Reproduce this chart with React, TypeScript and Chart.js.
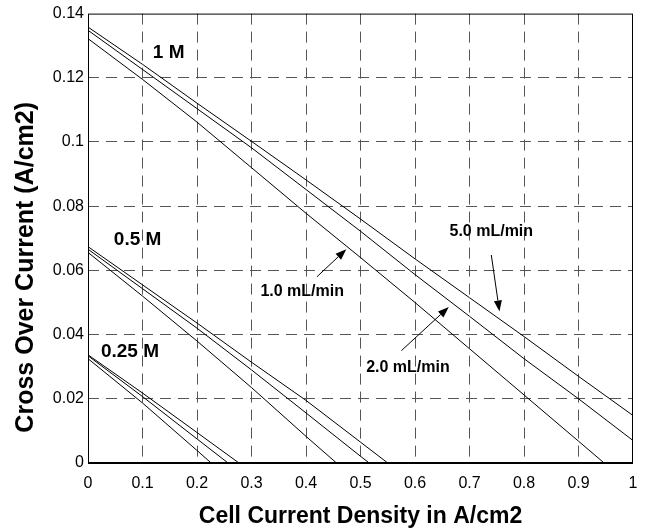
import React, { useEffect, useRef } from "react";
import { Chart, registerables } from "chart.js";

Chart.register(...registerables);

// ---- data ----
const X_MIN = 0;
const X_MAX = 1;
const X_STEP = 0.1;
const Y_MIN = 0;
const Y_MAX = 0.14;
const Y_STEP = 0.02;

// 1 M
const x1M_5 = [0, 0.1, 0.2, 0.3, 0.4, 0.5, 0.6, 0.7, 0.8, 0.9, 1.0];
const y1M_5 = [0.1358, 0.1242, 0.1121, 0.1002, 0.0882, 0.076, 0.0636, 0.0515, 0.0394, 0.027, 0.0148];
const x1M_2 = [0, 0.1, 0.2, 0.3, 0.4, 0.5, 0.6, 0.7, 0.8, 0.9, 1.0];
const y1M_2 = [0.1348, 0.1226, 0.1104, 0.0982, 0.0852, 0.0722, 0.0587, 0.0457, 0.0325, 0.02, 0.007];
const x1M_1 = [0, 0.1, 0.2, 0.3, 0.4, 0.5, 0.6, 0.7, 0.8, 0.9, 0.947];
const y1M_1 = [0.1322, 0.1195, 0.1062, 0.092, 0.0778, 0.064, 0.05, 0.0356, 0.0212, 0.0068, 0];

// 0.5 M
const x05_5 = [0, 0.1, 0.2, 0.3, 0.4, 0.5, 0.55];
const y05_5 = [0.0674, 0.0555, 0.0436, 0.0314, 0.0195, 0.0065, 0];
const x05_2 = [0, 0.1, 0.2, 0.3, 0.4, 0.5, 0.516];
const y05_2 = [0.0666, 0.0543, 0.042, 0.029, 0.0156, 0.0021, 0];
const x05_1 = [0, 0.1, 0.2, 0.3, 0.4, 0.456];
const y05_1 = [0.0656, 0.052, 0.038, 0.0235, 0.0083, 0];

// 0.25 M
const x025_5 = [0, 0.1, 0.2, 0.277];
const y025_5 = [0.0337, 0.0218, 0.0095, 0];
const x025_2 = [0, 0.1, 0.2, 0.257];
const y025_2 = [0.0334, 0.0207, 0.0075, 0];
const x025_1 = [0, 0.1, 0.2, 0.226];
const y025_1 = [0.0325, 0.0187, 0.0039, 0];

const SERIES: [string, number[], number[]][] = [
  ["1 M, 5.0 mL/min", x1M_5, y1M_5],
  ["1 M, 2.0 mL/min", x1M_2, y1M_2],
  ["1 M, 1.0 mL/min", x1M_1, y1M_1],
  ["0.5 M, 5.0 mL/min", x05_5, y05_5],
  ["0.5 M, 2.0 mL/min", x05_2, y05_2],
  ["0.5 M, 1.0 mL/min", x05_1, y05_1],
  ["0.25 M, 5.0 mL/min", x025_5, y025_5],
  ["0.25 M, 2.0 mL/min", x025_2, y025_2],
  ["0.25 M, 1.0 mL/min", x025_1, y025_1],
];

// text annotations in data coordinates
const LABEL_TEXT = ["1 M", "0.5 M", "0.25 M", "1.0 mL/min", "2.0 mL/min", "5.0 mL/min"];
const LABEL_X = [0.148, 0.091, 0.077, 0.393, 0.587, 0.74];
const LABEL_Y = [0.1277, 0.0695, 0.0348, 0.0534, 0.0298, 0.072];
const LABEL_SIZE = [19, 19, 19, 16, 16, 16];

// arrows: from (x0,y0) to (x1,y1) in data coordinates
const ARROW_X0 = [0.42, 0.575, 0.74];
const ARROW_Y0 = [0.058, 0.035, 0.0648];
const ARROW_X1 = [0.474, 0.662, 0.755];
const ARROW_Y1 = [0.0666, 0.0486, 0.0472];

const X_TITLE = "Cell Current Density in A/cm2";
const Y_TITLE = "Cross Over Current (A/cm2)";

const FONT = "'Liberation Sans', Arial, Helvetica, sans-serif";

const fmt = (v: number) => String(parseFloat(Number(v).toFixed(4)));

const decorPlugin = {
  id: "decor",
  afterDraw(chart: any) {
    const { ctx, chartArea, scales } = chart;
    const sx = scales.x;
    const sy = scales.y;
    ctx.save();
    // frame
    ctx.strokeStyle = "#000";
    ctx.lineWidth = 1;
    ctx.strokeRect(chartArea.left + 0.5, chartArea.top + 0.5, chartArea.right - chartArea.left - 1, chartArea.bottom - chartArea.top);
    ctx.lineWidth = 2;
    ctx.beginPath();
    ctx.moveTo(chartArea.left, chartArea.bottom);
    ctx.lineTo(chartArea.right, chartArea.bottom);
    ctx.stroke();

    // labels
    ctx.fillStyle = "#000";
    ctx.textAlign = "center";
    ctx.textBaseline = "middle";
    for (let i = 0; i < LABEL_TEXT.length; i++) {
      ctx.font = `bold ${LABEL_SIZE[i]}px ${FONT}`;
      ctx.fillText(LABEL_TEXT[i], sx.getPixelForValue(LABEL_X[i]), sy.getPixelForValue(LABEL_Y[i]));
    }

    // arrows
    ctx.lineWidth = 1;
    for (let i = 0; i < ARROW_X0.length; i++) {
      const x0 = sx.getPixelForValue(ARROW_X0[i]);
      const y0 = sy.getPixelForValue(ARROW_Y0[i]);
      const x1 = sx.getPixelForValue(ARROW_X1[i]);
      const y1 = sy.getPixelForValue(ARROW_Y1[i]);
      const ang = Math.atan2(y1 - y0, x1 - x0);
      const L = 11;
      const W = 4;
      const bx = x1 - L * Math.cos(ang);
      const by = y1 - L * Math.sin(ang);
      ctx.beginPath();
      ctx.moveTo(x0, y0);
      ctx.lineTo(bx, by);
      ctx.stroke();
      ctx.beginPath();
      ctx.moveTo(x1, y1);
      ctx.lineTo(bx + W * Math.sin(ang), by - W * Math.cos(ang));
      ctx.lineTo(bx - W * Math.sin(ang), by + W * Math.cos(ang));
      ctx.closePath();
      ctx.fill();
    }

    // axis titles
    ctx.textAlign = "center";
    ctx.textBaseline = "middle";
    ctx.font = `bold 23px ${FONT}`;
    ctx.fillText(X_TITLE, (chartArea.left + chartArea.right) / 2, chartArea.bottom + 54);
    ctx.font = `bold 25px ${FONT}`;
    ctx.translate(26, (chartArea.top + chartArea.bottom) / 2 + 29);
    ctx.rotate(-Math.PI / 2);
    ctx.fillText(Y_TITLE, 0, 0);
    ctx.restore();
  },
};

export default function App() {
  const ref = useRef<HTMLCanvasElement | null>(null);
  useEffect(() => {
    if (!ref.current) return;
    const chart = new Chart(ref.current, {
      type: "line",
      data: {
        datasets: SERIES.map(([label, xs, ys]) => ({
          label,
          data: xs.map((x, i) => ({ x, y: ys[i] })),
          borderColor: "#000",
          borderWidth: 1,
          pointRadius: 0,
          tension: 0,
          fill: false,
        })),
      },
      options: {
        animation: false,
        responsive: false,
        layout: { padding: { left: 0, top: 13, right: 18, bottom: 0 } },
        plugins: { legend: { display: false }, tooltip: { enabled: false } },
        scales: {
          x: {
            type: "linear",
            min: X_MIN,
            max: X_MAX,
            ticks: {
              stepSize: X_STEP,
              callback: (v: any) => fmt(v),
              color: "#000",
              font: { family: FONT, size: 16 },
              padding: 11,
              maxRotation: 0,
            },
            grid: {
              color: (c: any) => (c.tick && (c.tick.value <= X_MIN + 1e-9 || c.tick.value >= X_MAX - 1e-9) ? "rgba(0,0,0,0)" : "#555"),
              lineWidth: 1,
              drawTicks: false,
            },
            border: { display: false, dash: [11, 7] },
            afterFit: (s: any) => {
              s.height = 69;
            },
          },
          y: {
            type: "linear",
            min: Y_MIN,
            max: Y_MAX,
            ticks: {
              stepSize: Y_STEP,
              callback: (v: any) => fmt(v),
              color: "#000",
              font: { family: FONT, size: 16 },
              padding: 4,
            },
            grid: {
              color: (c: any) => (c.tick && (c.tick.value <= Y_MIN + 1e-9 || c.tick.value >= Y_MAX - 1e-9) ? "rgba(0,0,0,0)" : "#555"),
              lineWidth: 1,
              drawTicks: false,
            },
            border: { display: false, dash: [11, 7] },
            afterFit: (s: any) => {
              s.width = 88;
            },
          },
        },
      },
      plugins: [decorPlugin],
    });
    return () => chart.destroy();
  }, []);
  return (
    <div style={{ position: "absolute", left: 0, top: 0, width: 651, height: 532, background: "#fff" }}>
      <canvas ref={ref} width={651} height={532} style={{ display: "block" }} />
    </div>
  );
}
